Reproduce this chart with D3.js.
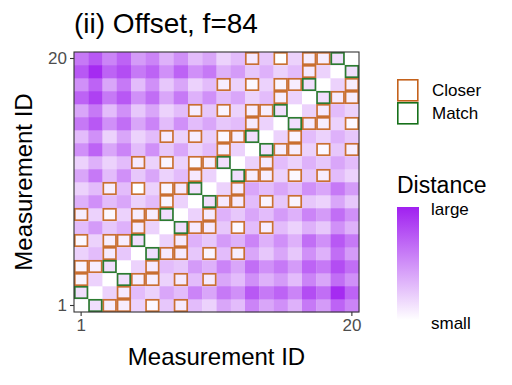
<!DOCTYPE html>
<html>
<head>
<meta charset="utf-8">
<script src="https://cdn.jsdelivr.net/npm/d3@7"></script>
<style>
  body { margin: 0; background: #fff; }
  text { font-family: "Liberation Sans", Arial, sans-serif; }
</style>
</head>
<body>
<svg id="chart" width="512" height="385"></svg>
<script>
// measurement ids on both axes
const ids = [1, 2, 3, 4, 5, 6, 7, 8, 9, 10, 11, 12, 13, 14, 15, 16, 17, 18, 19, 20];
const tickIds = [1, 20];

// distance (0 = white, 10 = full purple)
// one array per y id (1 at the bottom), values for x id 1..20
const distRows = [
  [0, 1.5, .8, .8, 2, .3, 2.5, 1, 3, 2, 4, 3, 5.5, 4, 5, 3.5, 6, 4.5, 7, 5.5],
  [1.5, 0, 2, 1, 3, 2, 4, 3, 5.5, 4, 6, 5, 7.5, 6, 7, 5.5, 8, 6.5, 9.5, 7],
  [.5, 2, 0, 1.5, .8, .8, 2, 1, 3, 1, 4, 3, 5, 3.5, 4.5, 3, 5.5, 4, 6.5, 5],
  [.5, .8, 1.5, 0, 2, 1, 3, 2.5, 4.5, 3.5, 5.5, 4, 6.5, 5, 6, 4.5, 7, 6, 8, 6.5],
  [2, 3, 1, 2.5, 0, 1.5, 1, 1, 2.5, .5, 3, .8, 4, 2.5, 4, 2.5, 5, 3.5, 6.5, 4.5],
  [.3, 2, .8, .8, 1.5, 0, 2, 1, 3.5, 2.5, 4.5, 3.5, 5.5, 3.5, 5, 3.5, 6.5, 5, 7.5, 6],
  [3, 4.5, 2.5, 3.5, 1, 2, 0, 1.5, 1, 1, 2.5, .3, 3, .8, 3, 2, 3.5, 2.5, 5, 3.5],
  [.8, 2, .3, 2, .8, .8, 1.5, 0, 2, 1, 3.5, 2.5, 4, 3, 4.5, 3.5, 5.5, 4.5, 6.5, 5],
  [3.5, 5, 3, 4, 2, 3, .5, 2, 0, 1.5, 1, 1, 3, .5, 2.5, .5, 2.5, 2, 4, 2.5],
  [2, 3, .8, 3, 0, 2, .5, 1, 1.5, 0, 2, 1, 4, 3, 4, 3, 5, 4, 6, 4.5],
  [4, 6, 3, 5, 2.5, 4, 2, 3, 1, 2, 0, 1.5, .8, .8, 2, .3, 2.5, .8, 3, 2],
  [2, 3.5, 2, 3, 1, 2, .5, 2, .3, .8, 1.5, 0, 2, 1, 3, 2, 3.5, 2.5, 4, 3],
  [5, 7, 4, 5.5, 3, 5, 2.5, 4, 2, 3, .8, 2, 0, 1.5, .8, .8, 2, .3, 2.5, .8],
  [3, 5, 2, 4, 2, 3, 1, 2, .8, 2.2, .3, .8, 1.5, 0, 2, .5, 3, 2, 3.5, 2.5],
  [6, 7.5, 5, 6.5, 4, 5.5, 3, 5, 3, 4, 2.5, 3, 1, 2, 0, 1.5, 1, .8, 2, .3],
  [4, 6, 3, 5, 2.5, 4, 2, 3, .8, 2.5, .5, 2, .8, .8, 1.5, 0, 2, 1, 3, 2],
  [7, 8.5, 6, 7.5, 5, 6.5, 4, 6, 3.5, 5, 3, 4, 2, 3, .8, 2, 0, 1.5, 1, .8],
  [5, 7, 4, 6, 3, 5, 2.5, 4, 2, 3, .8, 2, .3, 2, .5, .8, 1.5, 0, 2, .8],
  [7.5, 9.5, 7, 8, 6, 7, 5, 7, 5, 6, 3.5, 4.5, 2.5, 3.5, 2, 3, 1, 2, 0, 1.5],
  [6, 7.5, 5.5, 7, 4.5, 5.5, 3.5, 5, 3, 4, 2, 3, 1, 2.5, 0, 2, .8, .8, 1.5, 0]
];

// outlined cells as [x id, y id]
const matchCells = [
  [2, 1], [1, 2], [4, 3], [3, 4], [6, 5], [5, 6], [8, 7], [7, 8], [10, 9], [9, 10],
  [12, 11], [11, 12], [14, 13], [13, 14], [16, 15], [15, 16], [18, 17], [17, 18], [20, 19], [19, 20]
];
const closerCells = [
  [3, 1], [4, 1], [6, 1], [8, 1],
  [4, 2],
  [1, 3], [5, 3], [6, 3], [8, 3], [10, 3],
  [1, 4], [2, 4], [6, 4],
  [3, 5], [7, 5], [8, 5], [10, 5], [12, 5],
  [1, 6], [3, 6], [4, 6], [8, 6],
  [5, 7], [9, 7], [10, 7], [12, 7], [14, 7],
  [1, 8], [3, 8], [5, 8], [6, 8], [10, 8],
  [7, 9], [11, 9], [12, 9], [14, 9], [16, 9],
  [3, 10], [5, 10], [7, 10], [8, 10], [12, 10],
  [9, 11], [13, 11], [14, 11], [16, 11], [18, 11],
  [5, 12], [7, 12], [9, 12], [10, 12], [14, 12],
  [11, 13], [15, 13], [16, 13], [18, 13], [20, 13],
  [7, 14], [9, 14], [11, 14], [12, 14], [16, 14],
  [13, 15], [17, 15], [18, 15], [20, 15],
  [9, 16], [11, 16], [13, 16], [14, 16], [18, 16],
  [15, 17], [19, 17], [20, 17],
  [11, 18], [13, 18], [15, 18], [16, 18], [20, 18],
  [17, 19],
  [13, 20], [15, 20], [17, 20], [18, 20]
];

const legendKeys = ["Closer", "Match"];
const legendLabels = ["large", "small"];

const svg = d3.select("#chart");
const panel = { left: 74, right: 359, top: 52, bottom: 312 };
const orange = "#c4621c";
const green = "#16701a";

const x = d3.scaleBand().domain(ids).range([panel.left, panel.right]);
const y = d3.scaleBand().domain(ids).range([panel.bottom, panel.top]);
const color = d3.scaleLinear().domain([0, 10]).range(["#ffffff", "#a020f0"]);

// tiles
const cells = [];
distRows.forEach((row, i) => {
  row.forEach((v, j) => cells.push({ xid: ids[j], yid: ids[i], v: v }));
});

svg.append("g")
  .selectAll("rect")
  .data(cells)
  .join("rect")
  .attr("x", d => x(d.xid))
  .attr("y", d => y(d.yid))
  .attr("width", x.bandwidth() + 0.3)
  .attr("height", y.bandwidth() + 0.3)
  .attr("fill", d => color(d.v));

// outlines
function outline(list, stroke) {
  svg.append("g")
    .selectAll("rect")
    .data(list)
    .join("rect")
    .attr("x", d => x(d[0]) + 0.8)
    .attr("y", d => y(d[1]) + 0.8)
    .attr("width", x.bandwidth() - 1.6)
    .attr("height", y.bandwidth() - 1.6)
    .attr("fill", "none")
    .attr("stroke", stroke)
    .attr("stroke-opacity", 0.9)
    .attr("stroke-width", 1.7);
}
outline(closerCells, orange);
outline(matchCells, green);

// panel border
svg.append("rect")
  .attr("x", panel.left)
  .attr("y", panel.top)
  .attr("width", panel.right - panel.left)
  .attr("height", panel.bottom - panel.top)
  .attr("fill", "none")
  .attr("stroke", "#333")
  .attr("stroke-width", 1.1);

// axes
const xAxis = d3.axisBottom(x).tickValues(tickIds).tickSize(4).tickPadding(3);
const yAxis = d3.axisLeft(y).tickValues(tickIds).tickSize(4).tickPadding(3);

svg.append("g")
  .attr("transform", `translate(0,${panel.bottom})`)
  .call(xAxis)
  .call(g => g.select(".domain").remove())
  .call(g => g.selectAll("line").attr("stroke", "#333").attr("stroke-width", 1.1))
  .call(g => g.selectAll("text").attr("font-size", 17).attr("fill", "#4d4d4d")
    .attr("font-family", "Liberation Sans, Arial, sans-serif"));

svg.append("g")
  .attr("transform", `translate(${panel.left},0)`)
  .call(yAxis)
  .call(g => g.select(".domain").remove())
  .call(g => g.selectAll("line").attr("stroke", "#333").attr("stroke-width", 1.1))
  .call(g => g.selectAll("text").attr("font-size", 17).attr("fill", "#4d4d4d")
    .attr("font-family", "Liberation Sans, Arial, sans-serif"));

// titles
svg.append("text")
  .attr("x", 74)
  .attr("y", 33)
  .attr("font-size", 28)
  .text("(ii) Offset, f=84");

svg.append("text")
  .attr("x", (panel.left + panel.right) / 2)
  .attr("y", 365)
  .attr("text-anchor", "middle")
  .attr("font-size", 24)
  .text("Measurement ID");

svg.append("text")
  .attr("transform", `translate(32,${(panel.top + panel.bottom) / 2}) rotate(-90)`)
  .attr("text-anchor", "middle")
  .attr("font-size", 24)
  .text("Measurement ID");

// legend: outline keys
const keyG = svg.append("g").attr("transform", "translate(397,79)");
legendKeys.forEach((k, i) => {
  keyG.append("rect")
    .attr("x", 0.8)
    .attr("y", i * 23 + 0.8)
    .attr("width", 20)
    .attr("height", 21)
    .attr("fill", "#fff")
    .attr("stroke", i === 0 ? orange : green)
    .attr("stroke-width", 1.6);
  keyG.append("text")
    .attr("x", 35)
    .attr("y", i * 23 + 17)
    .attr("font-size", 17)
    .text(k);
});

// legend: colour bar
svg.append("text")
  .attr("x", 397)
  .attr("y", 193)
  .attr("font-size", 23)
  .text("Distance");

const defs = svg.append("defs");
const grad = defs.append("linearGradient")
  .attr("id", "distgrad")
  .attr("x1", 0).attr("y1", 1).attr("x2", 0).attr("y2", 0);
[0, 2.5, 5, 7.5, 10].forEach(v => {
  grad.append("stop").attr("offset", v / 10).attr("stop-color", color(v));
});

const barTop = 207, barBottom = 320;
svg.append("rect")
  .attr("x", 397)
  .attr("y", barTop)
  .attr("width", 22)
  .attr("height", barBottom - barTop)
  .attr("fill", "url(#distgrad)");

legendLabels.forEach((t, i) => {
  svg.append("text")
    .attr("x", 431)
    .attr("y", i === 0 ? 215 : 329)
    .attr("font-size", 17)
    .text(t);
});
</script>
</body>
</html>
